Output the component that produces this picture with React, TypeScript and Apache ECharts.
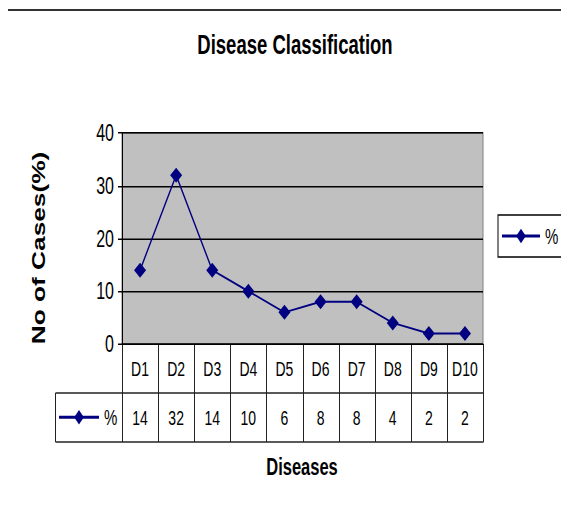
import React, { useEffect, useRef } from "react";
import * as echarts from "echarts";

const categories = ["D1", "D2", "D3", "D4", "D5", "D6", "D7", "D8", "D9", "D10"];
const percentValues = [14, 32, 14, 10, 6, 8, 8, 4, 2, 2];
const seriesName = "%";
const yTicks = { min: 0, max: 40, interval: 10 };

const FONT = "'Liberation Sans', Arial, sans-serif";

// The reference picture is stretched vertically; draw in unstretched space and scale.
const S = 1.5;
const u = (y: number) => y / S;

const G_LEFT = 122;
const G_W = 361;
const G_TOP = u(133);
const G_BOTTOM = u(344);
const ROW_H = u(49);
const TABLE_LEFT = 55.5;

export default function App() {
  const ref = useRef<HTMLDivElement>(null);
  useEffect(() => {
    if (!ref.current) return;
    const chart = echarts.init(ref.current, null, { renderer: "svg" });
    const colW = G_W / categories.length;
    const tableLines: any[] = [];
    const ln = (x1: number, y1: number, x2: number, y2: number) =>
      tableLines.push({
        type: "line",
        shape: { x1, y1, x2, y2 },
        style: { stroke: "#222", lineWidth: 1 },
        silent: true,
      });
    for (let i = 0; i <= categories.length; i++) {
      const x = Math.round(G_LEFT + i * colW) + 0.5;
      ln(x, G_BOTTOM, x, G_BOTTOM + 2 * ROW_H);
    }
    ln(TABLE_LEFT, G_BOTTOM + ROW_H, G_LEFT + G_W + 0.5, G_BOTTOM + ROW_H);
    ln(TABLE_LEFT, G_BOTTOM + 2 * ROW_H, G_LEFT + G_W + 0.5, G_BOTTOM + 2 * ROW_H);
    ln(TABLE_LEFT, G_BOTTOM + ROW_H, TABLE_LEFT, G_BOTTOM + 2 * ROW_H);

    chart.setOption({
      animation: false,
      backgroundColor: "#ffffff",
      title: {
        text: "Disease Classification",
        left: 290,
        top: u(23),
        textAlign: "center",
        textStyle: { fontFamily: FONT, fontWeight: "bold", fontSize: 18.5, color: "#000" },
      },
      graphic: [
        {
          type: "line",
          shape: { x1: 8, y1: u(10), x2: 561, y2: u(10) },
          style: { stroke: "#333", lineWidth: 1.4 },
          silent: true,
        },
        ...tableLines,
        {
          type: "text",
          x: 302,
          y: u(466),
          style: {
            text: "Diseases",
            font: `bold 16.5px ${FONT}`,
            fill: "#000",
            align: "center",
            verticalAlign: "middle",
          },
        },
        {
          type: "text",
          x: 39,
          y: u(248),
          rotation: Math.PI / 2,
          style: {
            text: "No of Cases(%)",
            font: `bold 17.5px ${FONT}`,
            fill: "#000",
            align: "center",
            verticalAlign: "middle",
          },
        },
      ],
      legend: [
        {
          data: [seriesName],
          left: 498,
          top: u(215),
          orient: "vertical",
          itemWidth: 38,
          itemHeight: 12,
          itemGap: 0,
          padding: [6.5, 24, 6.5, 3],
          borderColor: "#000",
          borderWidth: 1,
          textStyle: { fontFamily: FONT, fontSize: 15, color: "#000" },
        },
        {
          data: [seriesName],
          left: 58,
          top: u(418) - 8,
          itemWidth: 40,
          itemHeight: 12,
          padding: 0,
          textStyle: { fontFamily: FONT, fontSize: 15, color: "#000" },
        },
      ],
      grid: {
        left: G_LEFT,
        top: G_TOP,
        width: G_W,
        height: G_BOTTOM - G_TOP,
        show: true,
        backgroundColor: "#c0c0c0",
        borderColor: "#808080",
        borderWidth: 1,
      },
      xAxis: [
        {
          type: "category",
          data: categories,
          boundaryGap: true,
          axisLine: { lineStyle: { color: "#000", width: 1 } },
          axisTick: { show: false },
          axisLabel: {
            interval: 0,
            fontFamily: FONT,
            fontSize: 14,
            lineHeight: 14,
            color: "#000",
            margin: u(369) - G_BOTTOM - 7,
          },
        },
        {
          type: "category",
          position: "bottom",
          offset: ROW_H,
          data: percentValues.map(String),
          boundaryGap: true,
          axisLine: { show: false },
          axisTick: { show: false },
          axisLabel: {
            interval: 0,
            fontFamily: FONT,
            fontSize: 14,
            lineHeight: 14,
            color: "#000",
            margin: u(418) - G_BOTTOM - ROW_H - 7,
          },
        },
      ],
      yAxis: {
        type: "value",
        min: yTicks.min,
        max: yTicks.max,
        interval: yTicks.interval,
        axisLine: { show: true, lineStyle: { color: "#000", width: 1 } },
        axisTick: { show: true, length: 4, lineStyle: { color: "#000" } },
        axisLabel: { fontFamily: FONT, fontSize: 16, color: "#000", margin: 8 },
        splitLine: { show: true, lineStyle: { color: "#000", width: 1 } },
      },
      series: [
        {
          name: seriesName,
          type: "line",
          data: percentValues,
          color: "#000080",
          symbol: "diamond",
          symbolSize: [12, 10],
          lineStyle: { color: "#000080", width: 1.3 },
          itemStyle: { color: "#000080" },
        },
      ],
    });
    return () => chart.dispose();
  }, []);
  return (
    <div
      ref={ref}
      style={{
        position: "fixed",
        left: 0,
        top: 0,
        width: 561,
        height: 343,
        transform: `scaleY(${S})`,
        transformOrigin: "0 0",
      }}
    />
  );
}
